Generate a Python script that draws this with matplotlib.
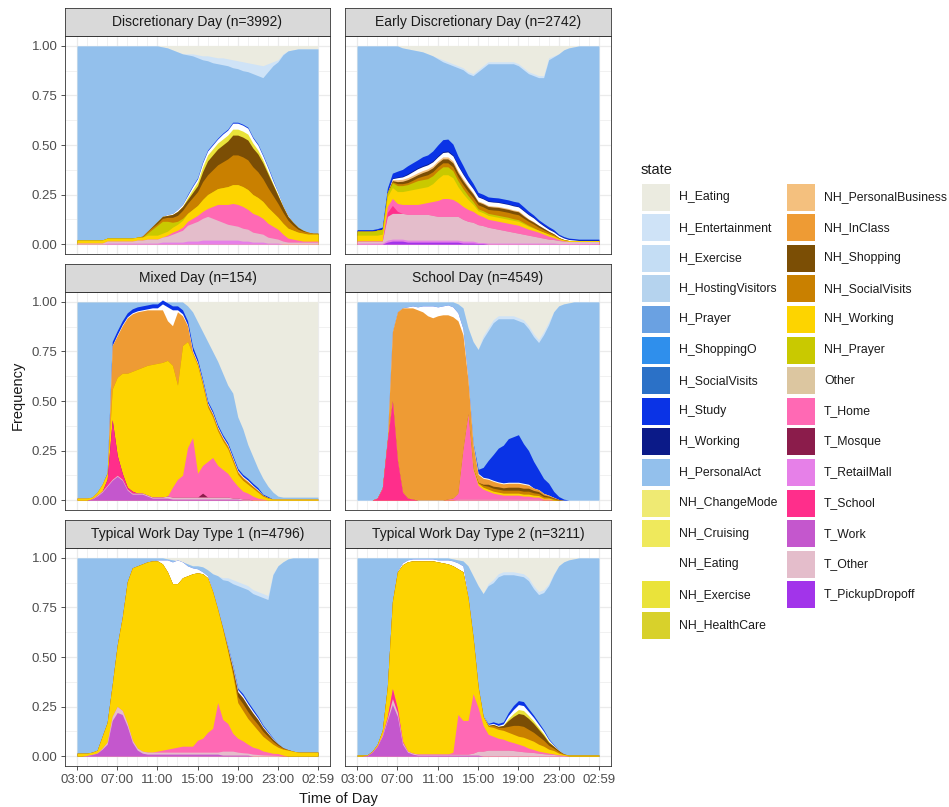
import numpy as np
import matplotlib
matplotlib.use("Agg")
import matplotlib.pyplot as plt
from matplotlib.patches import Rectangle

plt.rcParams['font.family'] = ['Liberation Sans', 'DejaVu Sans']

# ---------------- time grid (half-hour steps, 03:00 .. 02:59) ----------------
time_hours = list(np.arange(3.0, 27.0, 0.5)) + [26 + 59 / 60]
tick_hours = [3, 7, 11, 15, 19, 23, 26 + 59 / 60]
tick_labels = ['03:00', '07:00', '11:00', '15:00', '19:00', '23:00', '02:59']
minor_hours = [4, 5, 6, 8, 9, 10, 12, 13, 14, 16, 17, 18, 20, 21, 22, 24, 25, 26]

# ---------------- states (legend order) and colours ----------------
states = ['H_Eating', 'H_Entertainment', 'H_Exercise', 'H_HostingVisitors', 'H_Prayer',
          'H_ShoppingO', 'H_SocialVisits', 'H_Study', 'H_Working', 'H_PersonalAct',
          'NH_ChangeMode', 'NH_Cruising', 'NH_Eating', 'NH_Exercise', 'NH_HealthCare',
          'NH_PersonalBusiness', 'NH_InClass', 'NH_Shopping', 'NH_SocialVisits', 'NH_Working',
          'NH_Prayer', 'Other', 'T_Home', 'T_Mosque', 'T_RetailMall', 'T_School', 'T_Work',
          'T_Other', 'T_PickupDropoff']
state_colors = ['#EBEBE0', '#CFE3F7', '#C4DDF4', '#B5D3EE', '#6AA1E2',
                '#2F8FEC', '#2B71C7', '#0A33E6', '#0B1A88', '#93C0EC',
                '#EFEA73', '#EFE95C', '#FFFFFF', '#EAE33A', '#D8D12B',
                '#F4C07E', '#EE9B34', '#7B4E05', '#C98000', '#FDD400',
                '#C9C900', '#DCC6A0', '#FF69B4', '#8B1C4B', '#E680E8', '#FF2E8B', '#C457CD',
                '#E4BDCB', '#A234EA']
COLORS = dict(zip(states, state_colors))

# stacking order, bottom -> top
stack_order = ['T_PickupDropoff', 'T_RetailMall', 'T_Work', 'T_Other', 'T_School', 'T_Mosque',
               'T_Home', 'Other', 'NH_Working', 'NH_Prayer', 'NH_SocialVisits', 'NH_Shopping',
               'NH_HealthCare', 'NH_Exercise', 'NH_Cruising', 'NH_ChangeMode',
               'NH_PersonalBusiness', 'NH_InClass', 'NH_Eating', 'H_Working', 'H_Study',
               'H_SocialVisits', 'H_ShoppingO', 'H_Prayer', 'H_PersonalAct',
               'H_HostingVisitors', 'H_Exercise', 'H_Entertainment', 'H_Eating']

# ---------------- Discretionary Day ----------------
d_t_retailmall = [0]*6 + [.005]*11 + [.01]*5 + [.015]*3 + [.02]*8 + [.015, .015, .01, .01, .01, .005, .005, .005] + [0]*8
d_t_other = [.005]*6 + [.01]*6 + [.015, .015, .02, .02, .02, .025, .03, .04, .05, .06, .08, .09, .1, .11, .12, .11, .1, .09, .08, .075, .07, .065, .06, .05, .045, .04, .03, .025, .02, .015] + [.01]*7
d_t_home = [0]*18 + [.005, .01, .01, .015, .02, .025, .03, .035, .04, .06, .08, .09, .1, .11, .11, .11, .1, .095, .09, .08, .07, .06, .05, .035, .02, .015, .01, .005, .005, .005, .005]
d_nh_working = [.015]*14 + [.02]*5 + [.025, .03, .035, .04, .045, .05, .06, .07, .075, .08, .085, .09, .095, .1, .1, .1, .095, .09, .085, .08, .07, .06, .055, .05, .045, .04, .04, .035, .035, .035]
d_nh_socialvisits = [0]*13 + [.005, .01, .01, .01, .015, .02, .025, .03, .04, .05, .06, .07, .09, .1, .11, .12, .13, .14, .15, .15, .15, .15, .14, .13, .115, .1, .085, .07, .055, .04, .025, .015, .01, .01, .005, .005]
d_nh_shopping = [0]*15 + [.005, .01, .01, .01, .015, .02, .02, .02, .025, .03, .05, .07, .075, .08, .085, .09, .1, .1, .1, .1, .095, .09, .08, .07, .055, .04, .03, .02, .015, .01, .005] + [0]*3
d_nh_prayer = [0]*14 + [.01, .03, .05, .06, .05, .025, .015, .01] + [0]*27
d_nh_exercise = [0]*22 + [.01, .015, .02, .025, .03, .03, .03, .03, .03, .03, .03, .03, .03, .025, .02, .015, .01, .005, .005] + [0]*8
d_nh_eating = [0]*18 + [.005, .005, .01, .01, .01, .015, .015, .02, .02, .02, .02, .025, .025, .03, .03, .03, .03, .025, .025, .02, .02, .015, .01, .005, .005] + [0]*6
d_h_study = [0]*22 + [.005]*18 + [0]*9
d_h_entertainment = [0]*22 + [.005, .01, .015, .02, .025, .03, .03, .035, .035, .04, .04, .045, .045, .05, .055, .06, .04, .02, .01, .005] + [0]*7
d_h_eating = [0]*17 + [.005, .01, .02, .03, .04, .04, .04, .045, .05, .05, .055, .06, .06, .065, .07, .075, .08, .085, .09, .095, .1, .09, .08, .07, .04, .025, .02, .015, .015, .015, .015, .015]

# ---------------- Early Discretionary Day ----------------
ed_t_retailmall = [.005]*6 + [.01]*18 + [.005]*16 + [.003]*9
ed_t_pickupdropoff = [0]*6 + [.01, .015, .015, .015] + [.01]*11 + [.005]*3 + [.003]*2 + [0]*23
ed_t_school = [0]*6 + [.02, .04, .01] + [0]*40
ed_t_other = [.01]*6 + [.12, .13, .13, .13, .13, .13, .13, .13, .13, .125, .12, .12, .12, .12, .12, .11, .1, .095, .09, .085, .08, .075, .07, .065, .06, .055, .05, .045, .04, .035, .03, .025, .02, .018, .015, .012] + [.01]*7
ed_t_home = [0]*6 + [.03, .035, .04, .045, .05, .05, .05, .055, .06, .07, .08, .09, .09, .085, .07, .065, .06, .055, .05, .045, .04, .04, .04, .04, .04, .04, .04, .035, .03, .028, .025, .02, .015, .01, .005] + [0]*8
ed_nh_working = [.03, .03, .03, .03, .03, .035, .05, .055, .06, .065, .07, .075, .08, .08, .08, .09, .11, .12, .12, .11, .08, .065, .05, .035, .02, .02, .02, .02, .02, .02, .02, .02, .02, .018, .015, .012, .01, .01, .01, .008, .005, .005] + [.005]*7
ed_nh_prayer = [.02, .02, .02, .02, .025, .025, .02, .025, .03, .03, .03, .035, .04, .04, .04, .04, .04, .04, .04, .035, .03, .025, .02, .015, .01, .01, .01, .01, .01, .01, .01, .008, .008, .006, .005, .003] + [0]*13
ed_nh_socialvisits = [0]*7 + [.005, .01, .01, .01, .012, .015, .018, .02, .02, .02, .02, .02, .02, .02, .02, .02, .02, .02, .02, .02, .022, .025, .025, .025, .025, .025, .022, .02, .018, .015, .012, .01, .008, .005, .003] + [0]*7
ed_nh_shopping = [0]*7 + [.005, .01, .012, .015, .015, .015, .018, .02, .02, .02, .02, .02, .02, .02, .02, .02, .018, .015, .015, .015, .015, .015, .015, .015, .015, .015, .012, .01, .01, .01, .008, .005, .003] + [0]*9
ed_nh_personalbusiness = [0]*7 + [.005] + [.01]*14 + [.008, .006] + [.005]*10 + [.003]*2 + [0]*13
ed_nh_eating = [0]*7 + [.005, .01, .012, .015, .018, .02, .02, .02, .02, .02, .022, .025, .025, .025, .022, .02, .02, .02, .02, .02, .02, .02, .02, .02, .02, .02, .02, .02, .018, .015, .012, .01, .01, .01, .008, .005, .003] + [0]*5
ed_h_study = [.005, .005, .005, .005, .005, .008, .02, .025, .03, .035, .04, .04, .04, .045, .045, .05, .055, .06, .06, .055, .045, .04, .03, .025, .02, .02, .02, .02, .02, .02, .02, .02, .02, .018, .015, .012, .01, .01, .01, .008] + [.005]*9
ed_h_working = [.003]*10 + [.005]*12 + [.003]*18 + [.002]*9
ed_h_entertainment = [0]*16 + [.005] + [.01]*22 + [.005] + [0]*9
ed_h_eating = [0]*9 + [.01, .015, .02, .025, .03, .04, .05, .06, .07, .08, .09, .1, .11, .13, .14, .12, .1, .08, .08, .08, .08, .08, .08, .09, .11, .13, .14, .15, .15, .06, .05, .04, .02, .01, .005] + [0]*5

# ---------------- Mixed Day ----------------
m_t_work = [0, 0, 0, .005, .02, .04, .07, .1, .12, .1, .05, .03, .03, .03, .02, .01, .01, .01, .01] + [.005]*14 + [0]*16
m_t_school = [0]*6 + [.03, .3, .1, .03, .01, .01] + [0]*37
m_t_other = [0]*4 + [.005]*14 + [.01]*13 + [.005]*4 + [0]*14
m_t_mosque = [0]*25 + [.02] + [0]*23
m_t_home = [0]*18 + [0, .05, .09, .11, .25, .3, .12, .14, .18, .2, .16, .14, .12, .09, .06, .04, .03, .02, .01, .005] + [0]*11
m_nh_working = [.01, .01, .01, .01, .015, .035, .03, .155, .395, .505, .575, .605, .625, .635, .655, .67, .675, .68, .685, .615, .475, .655, .535, .425, .545, .405, .275, .205, .175, .145, .125, .095, .06, .055, .045, .04, .03, .015, .01] + [.005]*10
m_nh_inclass = [0]*7 + [.22, .21, .24, .28, .29, .29, .285, .28, .275, .27, .265, .2, .2, .37, .15, .08, .01] + [.005]*11 + [0]*14
m_nh_socialvisits = [0]*24 + [.005] + [.01]*11 + [.008, .005, .003] + [0]*10
m_nh_eating = [0]*8 + [.005]*7 + [.01, .01, .03, .07, .08, .01, .01] + [.005]*15 + [0]*12
m_h_study = [0]*6 + [.005, .02] + [.02]*16 + [.015, .01] + [.01]*10 + [.01, .005, .005] + [0]*10
m_h_eating = [0]*22 + [.02, .05, .1, .15, .2, .25, .3, .36, .42, .46, .58, .64, .72, .78, .84, .89, .93, .96, .98] + [.985]*8

# ---------------- School Day ----------------
s_t_school = [0]*4 + [.01, .06, .3, .5, .2, .04, .01, .005] + [0]*37
s_t_other = [0]*20 + [.005]*17 + [0]*12
s_t_home = [0]*18 + [.005, .01, .03, .25, .43, .15, .07, .05, .04, .03, .025, .02, .02, .02, .02, .015, .015, .01, .01, .005, .005] + [0]*10
s_nh_working = [0]*23 + [.005] + [.01]*12 + [.008, .005, .005, .003] + [0]*9
s_nh_inclass = [0]*6 + [.01, .35, .75, .93, .96, .965, .96, .95, .93, .92, .93, .935, .93, .915, .87, .58, .17, .12, .04, .03, .025, .025, .02, .02, .02, .02, .02, .02, .015, .012, .01, .008, .005, .003] + [0]*9
s_nh_socialvisits = [0]*24 + [.005, .01, .015, .015, .015, .015, .015, .015, .015, .015, .015, .012, .01, .008, .005, .005, .003] + [0]*8
s_nh_shopping = [0]*24 + [0, .005, .01, .01, .012, .012, .015, .015, .015, .015, .015, .012, .01, .008, .005, .003] + [0]*9
s_nh_eating = [0]*10 + [.005, .01, .015, .03, .05, .06, .045, .045, .05, .05, .04, .03, .01, .005] + [.005]*11 + [0]*14
s_h_study = [0]*23 + [.005, .02, .05, .09, .13, .17, .19, .22, .23, .24, .2, .17, .135, .1, .075, .06, .03, .015, .005] + [0]*7
s_h_entertainment = [0]*25 + [.015]*14 + [0]*10
s_h_eating = [0]*20 + [.01, .03, .13, .2, .24, .17, .13, .09, .07, .07, .07, .07, .08, .09, .12, .16, .19, .15, .1, .05, .02, .01, .005] + [0]*6

# ---------------- Typical Work Day Type 1 ----------------
t1_t_work = [0, 0, .003, .008, .015, .035, .06, .18, .22, .21, .15, .07, .03, .015] + [.01]*15 + [.005]*6 + [0]*14
t1_t_other = [0]*5 + [.005, .01, .02, .03, .02, .015, .01, .01, .01] + [.01]*15 + [.02, .02, .02, .015, .012, .01, .01, .008, .006, .005, .004, .003] + [0]*8
t1_t_home = [0]*16 + [.005, .01, .015, .02, .025, .03, .03, .03, .06, .07, .1, .12, .25, .16, .14, .09, .07, .06, .045, .035, .03, .02, .015, .01, .01, .005] + [0]*7
t1_nh_working = [.015, .015, .012, .012, .015, .06, .1, .16, .31, .47, .715, .87, .92, .945, .96, .965, .96, .94, .895, .83, .825, .85, .86, .87, .845, .83, .78, .69, .47, .455, .365, .295, .18, .153, .13, .115, .092, .074, .06, .046, .032, .03, .03, .025] + [.02]*5
t1_nh_socialvisits = [0]*29 + [.005, .01, .02, .03, .035, .035, .03, .03, .025, .02, .015, .01, .005, .003] + [0]*6
t1_nh_shopping = [0]*30 + [.005, .015, .025, .03, .03, .028, .025, .02, .015, .01, .007, .003] + [0]*7
t1_nh_eating = [0]*16 + [.005, .02, .06, .11, .12, .08, .05, .03, .02, .01, .01, .005, .005, .005, .008, .01, .01, .01, .01, .01, .008, .006, .005, .003] + [0]*9
t1_h_study = [0]*30 + [.003, .005, .008, .01, .01, .01, .008, .006, .005, .003] + [0]*9
t1_h_entertainment = [0]*29 + [.01, .015, .02, .02, .02, .02, .02, .02, .02, .02, .005] + [0]*9
t1_h_eating = [0]*18 + [.005, .01, .015, .02, .03, .04, .04, .045, .06, .08, .09, .1, .1, .11, .12, .13, .14, .16, .17, .18, .19, .08, .04, .02, .005] + [0]*6

# ---------------- Typical Work Day Type 2 ----------------
t2_t_work = [0, 0, .003, .02, .05, .1, .18, .26, .2, .06, .02, .01] + [.005]*13 + [0]*24
t2_t_school = [0]*6 + [.01, .05, .02, .005] + [0]*39
t2_t_other = [0]*5 + [.005, .01, .03, .02, .01] + [.005]*13 + [.01, .02, .025, .03, .03, .03, .03, .03, .028, .025, .022, .02, .018, .015, .012, .01, .008, .005, .003] + [0]*7
t2_t_home = [0]*19 + [.01, .2, .17, .17, .3, .22, .13, .08, .07, .06, .055, .045, .04, .035, .03, .02, .015, .01, .008, .005, .003] + [0]*9
t2_nh_working = [.005, .005, .003, .005, .01, .025, .15, .44, .69, .89, .955, .97, .975, .975, .975, .975, .97, .965, .96, .94, .735, .75, .62, .285, .105, .045, .04, .045, .045, .045, .045, .042, .04, .043, .045, .042, .035, .03, .02, .017, .01, .005] + [.005]*7
t2_nh_socialvisits = [0]*26 + [.005, .01, .01, .015, .03, .045, .055, .055, .05, .045, .04, .03, .02, .012, .008, .003] + [0]*7
t2_nh_shopping = [0]*26 + [0, .005, .005, .01, .03, .045, .06, .06, .055, .045, .035, .025, .015, .01, .005] + [0]*8
t2_nh_exercise = [0]*30 + [.01, .015, .02, .02, .015, .012, .01, .008, .005] + [0]*10
t2_nh_eating = [0]*8 + [.005, .01, .01, .01, .01, .01, .01, .01, .01, .015, .02, .025, .03, .03, .01, .005, .005, .005, .005, .005, .005, .008, .015, .02, .025, .025, .02, .018, .015, .012, .008, .005, .003] + [0]*8
t2_h_study = [0]*26 + [.005, .008, .01, .01, .015, .02, .02, .02, .015, .012, .01, .008, .005, .003] + [0]*9
t2_h_entertainment = [0]*26 + [.01] + [.015]*11 + [.01, .005] + [0]*9
t2_h_eating = [0]*19 + [.005, .01, .015, .04, .09, .14, .18, .13, .11, .08, .07, .07, .07, .075, .08, .1, .14, .17, .16, .13, .08, .04, .02, .01, .005] + [0]*5

facet_titles = ['Discretionary Day (n=3992)', 'Early Discretionary Day (n=2742)',
                'Mixed Day (n=154)', 'School Day (n=4549)',
                'Typical Work Day Type 1 (n=4796)', 'Typical Work Day Type 2 (n=3211)']

facet_series = [
    {'T_RetailMall': d_t_retailmall, 'T_Other': d_t_other, 'T_Home': d_t_home,
     'NH_Working': d_nh_working, 'NH_SocialVisits': d_nh_socialvisits,
     'NH_Shopping': d_nh_shopping, 'NH_Prayer': d_nh_prayer, 'NH_Exercise': d_nh_exercise,
     'NH_Eating': d_nh_eating, 'H_Study': d_h_study,
     'H_Entertainment': d_h_entertainment, 'H_Eating': d_h_eating},
    {'T_RetailMall': ed_t_retailmall, 'T_PickupDropoff': ed_t_pickupdropoff,
     'T_School': ed_t_school, 'T_Other': ed_t_other, 'T_Home': ed_t_home,
     'NH_Working': ed_nh_working, 'NH_Prayer': ed_nh_prayer,
     'NH_SocialVisits': ed_nh_socialvisits, 'NH_Shopping': ed_nh_shopping,
     'NH_PersonalBusiness': ed_nh_personalbusiness, 'NH_Eating': ed_nh_eating,
     'H_Study': ed_h_study, 'H_Working': ed_h_working,
     'H_Entertainment': ed_h_entertainment, 'H_Eating': ed_h_eating},
    {'T_Work': m_t_work, 'T_School': m_t_school, 'T_Other': m_t_other,
     'T_Mosque': m_t_mosque, 'T_Home': m_t_home, 'NH_Working': m_nh_working,
     'NH_InClass': m_nh_inclass, 'NH_SocialVisits': m_nh_socialvisits,
     'NH_Eating': m_nh_eating, 'H_Study': m_h_study, 'H_Eating': m_h_eating},
    {'T_School': s_t_school, 'T_Other': s_t_other, 'T_Home': s_t_home,
     'NH_Working': s_nh_working, 'NH_InClass': s_nh_inclass,
     'NH_SocialVisits': s_nh_socialvisits, 'NH_Shopping': s_nh_shopping,
     'NH_Eating': s_nh_eating, 'H_Study': s_h_study,
     'H_Entertainment': s_h_entertainment, 'H_Eating': s_h_eating},
    {'T_Work': t1_t_work, 'T_Other': t1_t_other, 'T_Home': t1_t_home,
     'NH_Working': t1_nh_working, 'NH_SocialVisits': t1_nh_socialvisits,
     'NH_Shopping': t1_nh_shopping, 'NH_Eating': t1_nh_eating, 'H_Study': t1_h_study,
     'H_Entertainment': t1_h_entertainment, 'H_Eating': t1_h_eating},
    {'T_Work': t2_t_work, 'T_School': t2_t_school, 'T_Other': t2_t_other,
     'T_Home': t2_t_home, 'NH_Working': t2_nh_working,
     'NH_SocialVisits': t2_nh_socialvisits, 'NH_Shopping': t2_nh_shopping,
     'NH_Exercise': t2_nh_exercise, 'NH_Eating': t2_nh_eating, 'H_Study': t2_h_study,
     'H_Entertainment': t2_h_entertainment, 'H_Eating': t2_h_eating},
]

# ---------------- layout ----------------
FIG_W, FIG_H = 949, 807
fig = plt.figure(figsize=(FIG_W / 100, FIG_H / 100), dpi=100)
fig.patch.set_facecolor('white')


def fx(px):
    return px / FIG_W


def fy(py):
    return 1 - py / FIG_H


def add_axes_px(left, top, right, bottom):
    return fig.add_axes([fx(left), fy(bottom), fx(right) - fx(left), fy(top) - fy(bottom)])


col_x = [(65, 330), (345, 611)]
row_top = [8, 264, 520]
STRIP_H = 28
PANEL_H = 218
x = np.array(time_hours)

for idx, (title, series) in enumerate(zip(facet_titles, facet_series)):
    r, c = divmod(idx, 2)
    left, right = col_x[c]
    top = row_top[r]

    ax = add_axes_px(left, top + STRIP_H, right, top + STRIP_H + PANEL_H)
    ax.set_facecolor('white')
    ax.set_xlim(3 - 1.2, tick_hours[-1] + 1.2)
    ax.set_ylim(-0.05, 1.05)
    ax.set_xticks(tick_hours)
    ax.set_xticklabels(tick_labels)
    ax.set_xticks(minor_hours, minor=True)
    ax.set_yticks([0, 0.25, 0.5, 0.75, 1.0])
    ax.set_yticklabels(['0.00', '0.25', '0.50', '0.75', '1.00'])
    ax.set_yticks([0.125, 0.375, 0.625, 0.875], minor=True)
    ax.grid(which='major', color='#EBEBEB', lw=0.9)
    ax.grid(which='minor', color='#EBEBEB', lw=0.5)
    ax.set_axisbelow(True)
    ax.tick_params(which='minor', length=0)
    ax.tick_params(which='major', length=3, width=0.6, color='#333333',
                   labelsize=9.5, labelcolor='#4D4D4D', pad=2.5)
    if r < 2:
        ax.tick_params(labelbottom=False, bottom=False)
    if c > 0:
        ax.tick_params(labelleft=False, left=False)
    for sp in ax.spines.values():
        sp.set_color('#333333')
        sp.set_linewidth(0.6)
        sp.set_zorder(5)

    # stacked areas (remaining share is H_PersonalAct)
    layers = {k: np.array(v, dtype=float) for k, v in series.items()}
    others = np.zeros_like(x)
    for v in layers.values():
        others = others + v
    layers['H_PersonalAct'] = 1.0 - others
    cum = np.zeros_like(x)
    tops = []
    for s in stack_order:
        if s in layers:
            cum = cum + layers[s]
            tops.append((s, cum.copy()))
    for s, ytop in reversed(tops):
        ax.fill_between(x, 0, ytop, color=COLORS[s], lw=0, zorder=2)

    # strip
    sax = add_axes_px(left, top, right, top + STRIP_H)
    sax.set_facecolor('#D9D9D9')
    sax.set_xticks([])
    sax.set_yticks([])
    for sp in sax.spines.values():
        sp.set_color('#333333')
        sp.set_linewidth(0.6)
    sax.text(0.5, 0.5, title, ha='center', va='center', fontsize=10,
             color='#1A1A1A', transform=sax.transAxes)

# axis titles
fig.text(fx(18), fy(395), 'Frequency', rotation=90, ha='center', va='center',
         fontsize=10.5, color='#1A1A1A')
fig.text(fx(338), fy(799), 'Time of Day', ha='center', va='center',
         fontsize=10.5, color='#1A1A1A')

# legend
fig.text(fx(641), fy(170), 'state', ha='left', va='center', fontsize=10.5, color='#1A1A1A')
for k, s in enumerate(states):
    col = 0 if k < 15 else 1
    row = k if k < 15 else k - 15
    kx = 642 if col == 0 else 787
    cy = 197 + 30.6 * row
    fig.patches.append(Rectangle((fx(kx), fy(cy + 13.5)), 28 / FIG_W, 27 / FIG_H,
                                 transform=fig.transFigure, facecolor=COLORS[s],
                                 edgecolor='none'))
    fig.text(fx(kx + 37), fy(cy), s, ha='left', va='center', fontsize=8.8, color='#1A1A1A')

fig.savefig('out.png', dpi=100)
